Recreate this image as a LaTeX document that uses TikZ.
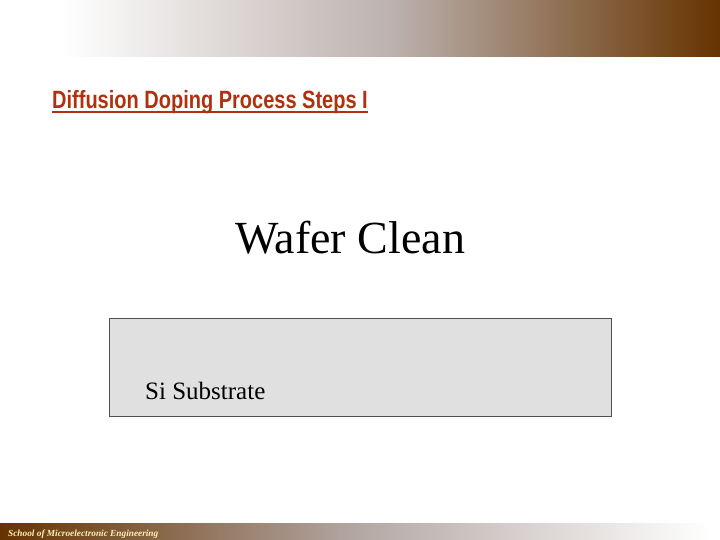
\documentclass[tikz,border=0pt]{standalone}
\usepackage{fontspec}
\setmainfont{Liberation Serif}
\newfontfamily\headfont[FakeStretch=0.80]{Liberation Sans}
\usetikzlibrary{positioning}
\definecolor{slidebrown}{RGB}{102,51,0}
\definecolor{slidegray}{RGB}{160,145,140}
\definecolor{headred}{RGB}{176,48,16}
\definecolor{footcream}{RGB}{255,240,180}
\definecolor{waferfill}{RGB}{224,224,224}
\definecolor{waferline}{RGB}{80,80,80}

\begin{document}
\begin{tikzpicture}[x=1pt, y=-1pt, inner sep=0pt,
        heading/.style = {font=\headfont\bfseries\fontsize{25}{29}\selectfont, text=headred, anchor=base west},
        wafer/.style = {draw=waferline, fill=waferfill, line width=1pt}]
        \useasboundingbox (0,0) rectangle (720,540);
        % title band and footer band
        \shade[left color=white, right color=slidebrown, middle color=slidegray!70!white] (60,0) rectangle (720,57);
        \shade[left color=slidebrown, right color=white, middle color=slidegray!80!white] (0,523) rectangle (710,540);
        \node[font=\bfseries\itshape\fontsize{9.3}{11}\selectfont, text=footcream, anchor=base west] (footer) at (8,536) {School of Microelectronic Engineering};
        \node[heading] (title) at (52,109) {Diffusion Doping Process Steps I};
        \draw[headred, line width=1.8pt] ([yshift=-3pt]title.base west) -- ([yshift=-3pt]title.base east);
        \node[font=\fontsize{46}{52}\selectfont, anchor=base] (step) at (350,253) {Wafer Clean};
        \node[wafer, minimum width=502pt, minimum height=98pt, anchor=north west] (substrate) at (109,318) {};
        \node[font=\fontsize{25}{30}\selectfont, anchor=base west] (si) at (145,399) {Si Substrate};
\end{tikzpicture}
\end{document}
